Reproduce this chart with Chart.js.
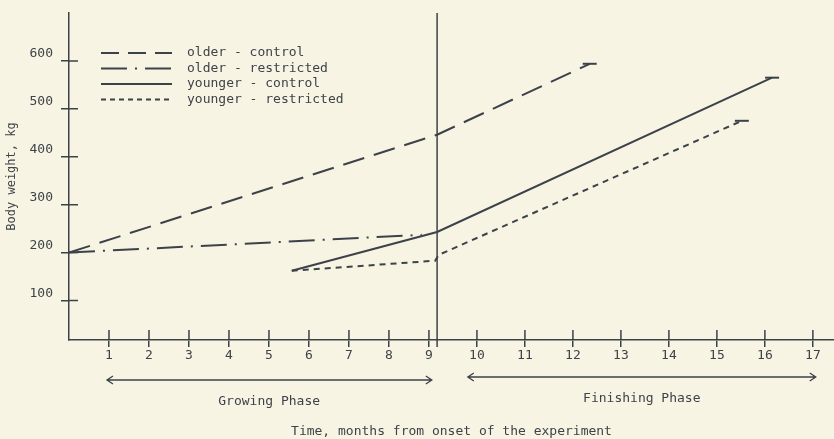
<!DOCTYPE html>
<html>
<head>
<meta charset="utf-8">
<title>Body weight</title>
<script src="https://cdn.jsdelivr.net/npm/chart.js@4.4.1/dist/chart.umd.min.js"></script>
<style>
  html, body { margin: 0; padding: 0; background: #f8f4e3; }
  #wrap { width: 834px; height: 439px; position: relative; }
</style>
</head>
<body>
<div id="wrap"><canvas id="weightChart"></canvas></div>
<script>
// months from onset of the experiment -> body weight, kg
const olderControlMonths = [0, 9.17, 12.35];
const olderControlWeight = [200, 446, 594];
const olderRestrictedMonths = [0, 8.82];
const olderRestrictedWeight = [200, 237];
const youngerControlMonths = [5.57, 9.17, 16.15];
const youngerControlWeight = [162, 243, 565];
const youngerRestrictedMonths = [5.57, 9.13, 9.2, 15.52];
const youngerRestrictedWeight = [162, 183, 195, 475];

const seriesNames = ['older - control', 'older - restricted', 'younger - control', 'younger - restricted'];
const xTickValues = [1, 2, 3, 4, 5, 6, 7, 8, 9, 10, 11, 12, 13, 14, 15, 16, 17];
const yTickValues = [100, 200, 300, 400, 500, 600];

const phaseNames = ['Growing Phase', 'Finishing Phase'];
const phaseStart = [0.95, 9.81];
const phaseEnd = [9.06, 17.06];
const dividerMonth = 9.17;

const ink = '#3c4249';
const textInk = '#3e434a';
const monoFont = "'DejaVu Sans Mono', 'Liberation Mono', monospace";

// the finishing phase is drawn on a wider month spacing than the growing phase
const splitMonth = 9;
const finishStretch = 1.2;
const toPos = m => m <= splitMonth ? m : splitMonth + (m - splitMonth) * finishStretch;
const fromPos = p => p <= splitMonth ? p : splitMonth + (p - splitMonth) / finishStretch;

class PhaseScale extends Chart.LinearScale {
    getPixelForValue(value) {
        const lo = toPos(this.min), hi = toPos(this.max);
        return this.getPixelForDecimal((toPos(value) - lo) / (hi - lo));
    }
    getValueForPixel(pixel) {
        const lo = toPos(this.min), hi = toPos(this.max);
        return fromPos(lo + this.getDecimalForPixel(pixel) * (hi - lo));
    }
}
PhaseScale.id = 'phase';
PhaseScale.defaults = Chart.LinearScale.defaults;
Chart.register(PhaseScale);

const toPoints = (months, weights) => months.map((m, i) => ({ x: m, y: weights[i] }));
const endHook = ctx => (ctx.dataIndex === ctx.dataset.data.length - 1 && ctx.dataset.hook) ? 7 : 0;

const arrow = (ctx, x1, x2, y) => {
    ctx.beginPath();
    ctx.moveTo(x1, y); ctx.lineTo(x2, y);
    ctx.moveTo(x1 + 6, y - 4); ctx.lineTo(x1, y); ctx.lineTo(x1 + 6, y + 4);
    ctx.moveTo(x2 - 6, y - 4); ctx.lineTo(x2, y); ctx.lineTo(x2 - 6, y + 4);
    ctx.stroke();
};

const paperExtras = {
    id: 'paperExtras',
    afterDraw(chart) {
        const { ctx, chartArea: area, scales: { x, y } } = chart;
        ctx.save();
        ctx.strokeStyle = ink;
        ctx.lineWidth = 1.5;

        // tick marks cross the axes
        ctx.beginPath();
        yTickValues.forEach(v => {
            const py = y.getPixelForValue(v);
            ctx.moveTo(area.left, py); ctx.lineTo(area.left + 9, py);
        });
        xTickValues.forEach(v => {
            const px = x.getPixelForValue(v);
            ctx.moveTo(px, area.bottom); ctx.lineTo(px, area.bottom - 10);
        });
        const dx = x.getPixelForValue(dividerMonth);
        ctx.moveTo(dx, area.top); ctx.lineTo(dx, area.bottom + 7);
        ctx.stroke();

        // phase arrows under the axis
        ctx.font = '13px ' + monoFont;
        ctx.fillStyle = textInk;
        ctx.textAlign = 'center';
        ctx.textBaseline = 'middle';
        phaseNames.forEach((name, i) => {
            const x1 = x.getPixelForValue(phaseStart[i]);
            const x2 = x.getPixelForValue(phaseEnd[i]);
            const ay = area.bottom + (i === 0 ? 40 : 37);
            ctx.lineWidth = 1.3;
            arrow(ctx, x1, x2, ay);
            ctx.fillText(name, x.getPixelForValue((phaseStart[i] + phaseEnd[i]) / 2), ay + 22);
        });

        // legend
        ctx.textAlign = 'left';
        chart.data.datasets.forEach((ds, i) => {
            const ly = 53 + i * 15.5;
            ctx.lineWidth = 2;
            ctx.setLineDash(ds.legendDash || ds.borderDash || []);
            ctx.beginPath();
            ctx.moveTo(101, ly); ctx.lineTo(172, ly);
            ctx.stroke();
            ctx.setLineDash([]);
            ctx.fillText(ds.label, 187, ly);
        });
        ctx.restore();
    }
};

const baseLine = {
    borderColor: ink,
    backgroundColor: ink,
    borderWidth: 2,
    pointStyle: 'line',
    pointBorderWidth: 2,
    pointRadius: endHook,
    fill: false,
    tension: 0
};

new Chart(document.getElementById('weightChart'), {
    type: 'line',
    data: {
        datasets: [
            { ...baseLine, label: seriesNames[0], data: toPoints(olderControlMonths, olderControlWeight), borderDash: [22, 10], legendDash: [18, 9], hook: true },
            { ...baseLine, label: seriesNames[1], data: toPoints(olderRestrictedMonths, olderRestrictedWeight), borderDash: [26, 8, 2, 8], hook: false },
            { ...baseLine, label: seriesNames[2], data: toPoints(youngerControlMonths, youngerControlWeight), hook: true },
            { ...baseLine, label: seriesNames[3], data: toPoints(youngerRestrictedMonths, youngerRestrictedWeight), borderDash: [6, 5], legendDash: [5, 4], hook: true }
        ]
    },
    options: {
        responsive: true,
        maintainAspectRatio: false,
        animation: false,
        layout: { autoPadding: false, padding: { top: 13, right: 0, bottom: 0, left: 0 } },
        plugins: {
            legend: { display: false },
            tooltip: { enabled: false }
        },
        scales: {
            x: {
                type: 'phase',
                min: 0,
                max: 17.44,
                afterBuildTicks: s => { s.ticks = xTickValues.map(v => ({ value: v })); },
                afterFit: s => { s.height = 99; s.paddingLeft = 0; s.paddingRight = 0; },
                grid: { drawOnChartArea: false, drawTicks: true, tickLength: 7, color: ink, lineWidth: 1.5 },
                border: { display: true, color: ink, width: 1.5 },
                ticks: { autoSkip: false, maxRotation: 0, padding: 1, color: textInk, font: { family: monoFont, size: 13 } },
                title: {
                    display: true,
                    text: 'Time, months from onset of the experiment',
                    color: textInk,
                    font: { family: monoFont, size: 13, lineHeight: 1.2 },
                    padding: { top: 0, bottom: 0 }
                }
            },
            y: {
                type: 'linear',
                min: 17.5,
                max: 700,
                afterBuildTicks: s => { s.ticks = yTickValues.map(v => ({ value: v })); },
                afterFit: s => { s.width = 69; s.paddingTop = 0; s.paddingBottom = 0; },
                grid: { drawOnChartArea: false, drawTicks: true, tickLength: 8, color: ink, lineWidth: 1.5 },
                border: { display: true, color: ink, width: 1.5 },
                ticks: { padding: 8, labelOffset: -7, color: textInk, font: { family: monoFont, size: 13 } },
                title: {
                    display: true,
                    text: 'Body weight, kg',
                    color: textInk,
                    font: { family: monoFont, size: 12, lineHeight: 1.2 },
                    padding: { top: 5, bottom: 0 }
                }
            }
        }
    },
    plugins: [paperExtras]
});
</script>
</body>
</html>
